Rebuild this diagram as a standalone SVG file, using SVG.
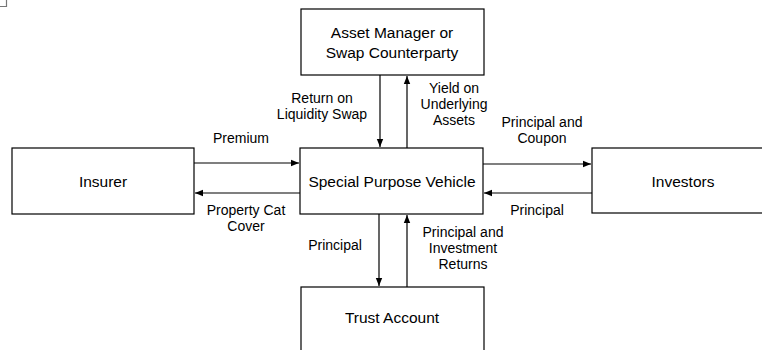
<svg xmlns="http://www.w3.org/2000/svg" width="762" height="350" viewBox="0 0 762 350">
<style>
.box{fill:#fff;stroke:#000;stroke-width:1.2}
.bt{font-family:"Liberation Sans",Arial,sans-serif;font-size:15.5px;fill:#000;text-anchor:middle}
.lt{font-family:"Liberation Sans",Arial,sans-serif;font-size:14px;fill:#000;text-anchor:middle}
.ln{stroke:#000;stroke-width:1.2;fill:none;marker-end:url(#ah)}
</style>
<defs>
<marker id="ah" viewBox="0 0 10 10" refX="10" refY="5" markerWidth="8" markerHeight="8" markerUnits="userSpaceOnUse" orient="auto">
<path d="M0,1 L10,5 L0,9 Z" fill="#000"/>
</marker>
</defs>
<rect width="762" height="350" fill="#fff"/>
<path d="M0,6.5 H6.5 V0" fill="none" stroke="#777" stroke-width="1.2"/>
<g id="connectors">
<line class="ln" x1="380" y1="75" x2="380" y2="147"/>
<line class="ln" x1="407" y1="148" x2="407" y2="76"/>
<line class="ln" x1="194" y1="163" x2="299" y2="163"/>
<line class="ln" x1="301" y1="193" x2="195" y2="193"/>
<line class="ln" x1="483" y1="164" x2="591" y2="164"/>
<line class="ln" x1="592" y1="193" x2="484" y2="193"/>
<line class="ln" x1="379" y1="214" x2="379" y2="286"/>
<line class="ln" x1="407" y1="287" x2="407" y2="215"/>
<text class="lt" x="322" y="103">Return on</text>
<text class="lt" x="322" y="119">Liquidity Swap</text>
<text class="lt" x="454" y="93">Yield on</text>
<text class="lt" x="454" y="109">Underlying</text>
<text class="lt" x="454" y="125">Assets</text>
<text class="lt" x="241" y="143">Premium</text>
<text class="lt" x="246" y="215">Property Cat</text>
<text class="lt" x="246" y="231">Cover</text>
<text class="lt" x="542" y="127">Principal and</text>
<text class="lt" x="542" y="143">Coupon</text>
<text class="lt" x="537" y="215">Principal</text>
<text class="lt" x="335" y="250">Principal</text>
<text class="lt" x="463" y="237">Principal and</text>
<text class="lt" x="463" y="253">Investment</text>
<text class="lt" x="463" y="269">Returns</text>
</g>
<g id="asset-manager">
<rect class="box" x="301" y="9" width="183" height="66"/>
<text class="bt" x="392" y="38">Asset Manager or</text>
<text class="bt" x="392" y="58">Swap Counterparty</text>
</g>
<g id="spv">
<rect class="box" x="300" y="148" width="183" height="66"/>
<text class="bt" x="392" y="187">Special Purpose Vehicle</text>
</g>
<g id="insurer">
<rect class="box" x="12" y="148" width="182" height="66"/>
<text class="bt" x="103" y="187">Insurer</text>
</g>
<g id="investors">
<rect class="box" x="592" y="148" width="183" height="65"/>
<text class="bt" x="683" y="187">Investors</text>
</g>
<g id="trust-account">
<rect class="box" x="301" y="287" width="183" height="70"/>
<text class="bt" x="392" y="323">Trust Account</text>
</g>
</svg>
